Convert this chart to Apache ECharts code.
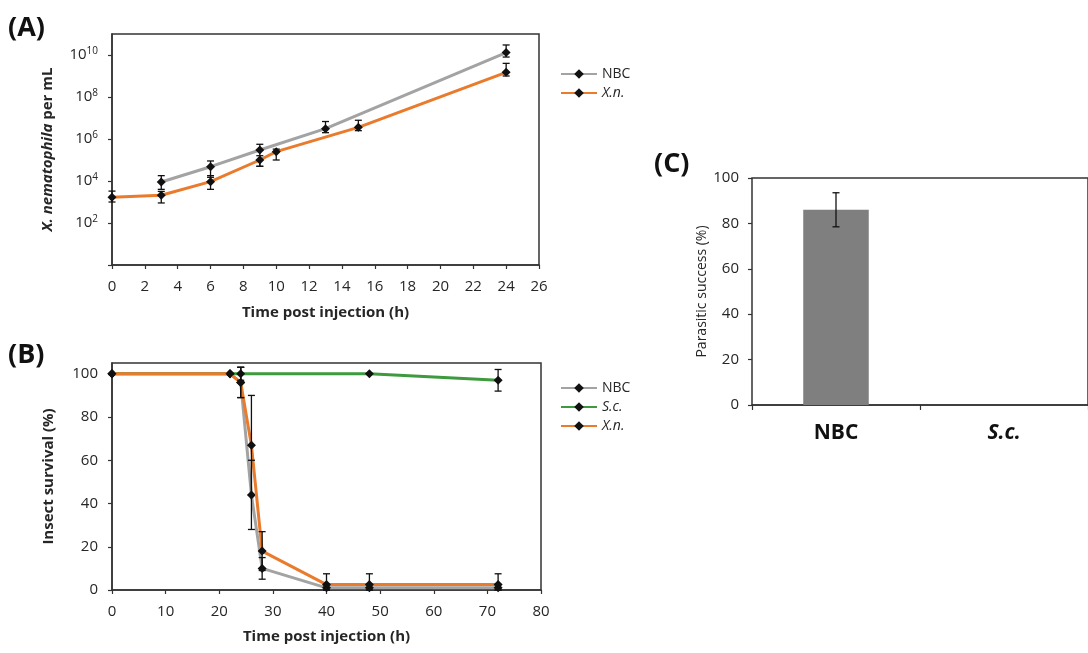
<!DOCTYPE html>
<html>
<head>
<meta charset="utf-8">
<script src="https://cdn.jsdelivr.net/npm/echarts@6/dist/echarts.min.js"></script>
<style>
html,body{margin:0;padding:0;background:#fff;}
#chart{width:1088px;height:653px;}
</style>
</head>
<body>
<div id="chart"></div>
<script>
// ---------- Panel A: X. nematophila per mL (log) ----------
const aTimesNBC = [3, 6, 9, 13, 24];
const aNBC      = [9e3, 4.8e4, 3e5, 3.1e6, 1.3e10];
const aNBCLow   = [4e3, 1.5e4, 5e4, 2e6, 8e9];
const aNBCHigh  = [1.8e4, 9e4, 5.6e5, 6.8e6, 3e10];
const aTimesXn  = [0, 3, 6, 9, 10, 15, 24];
const aXn       = [1.7e3, 2.1e3, 9.3e3, 1e5, 2.5e5, 3.6e6, 1.5e9];
const aXnLow    = [1e3, 9e2, 4e3, 5e4, 1e5, 2.5e6, 1e9];
const aXnHigh   = [3.3e3, 3.2e3, 1.8e4, 1.6e5, 3.3e5, 7.8e6, 4e9];

// ---------- Panel B: Insect survival (%) ----------
const bTimes    = [0, 22, 24, 26, 28, 40, 48, 72];
const bNBC      = [100, 100, 96, 44, 10, 1, 1, 1];
const bNBCErr   = [0, 0, 7, 16, 5, 1.5, 1.5, 1.5];
const bScTimes  = [0, 22, 24, 48, 72];
const bSc       = [100, 100, 100, 100, 97];
const bScErr    = [0, 0, 3, 0, 5];
const bXn       = [100, 100, 96, 67, 18, 2.5, 2.5, 2.5];
const bXnErr    = [0, 0, 7, 23, 9, 5, 5, 5];

// ---------- Panel C: Parasitic success (%) ----------
const cCategories = ['NBC', 'S.c.'];
const cValues     = [86, 0];
const cErr        = [7.5, 0];

const FONT = '"Open Sans", "Liberation Sans", sans-serif';
const AXIS_COLOR = '#333';
const TXT = '#262626';
const GRAY = '#a3a3a3', ORANGE = '#ea7b2c', GREEN = '#3e9a3e', BAR = '#7f7f7f';

function pairs(xs, ys) { return xs.map((x, i) => [x, ys[i]]); }
function errData(xs, lo, hi) { return xs.map((x, i) => [x, lo[i], hi[i]]); }
function errPM(xs, v, e) { return xs.map((x, i) => [x, Math.max(0, v[i] - e[i]), v[i] + e[i]]); }

function errRender(params, api) {
  const x = api.value(0), lo = api.value(1), hi = api.value(2);
  if (!(hi > lo)) return { type: 'group', children: [] };
  const p1 = api.coord([x, lo]), p2 = api.coord([x, hi]);
  const w = 3.5, st = { stroke: '#111', lineWidth: 1.3 };
  return { type: 'group', children: [
    { type: 'line', shape: { x1: p1[0], y1: p1[1], x2: p2[0], y2: p2[1] }, style: st },
    { type: 'line', shape: { x1: p1[0] - w, y1: p1[1], x2: p1[0] + w, y2: p1[1] }, style: st },
    { type: 'line', shape: { x1: p2[0] - w, y1: p2[1], x2: p2[0] + w, y2: p2[1] }, style: st }
  ]};
}

function lineSeries(name, data, color, xi, yi, z) {
  return {
    type: 'line', name: name, data: data, xAxisIndex: xi, yAxisIndex: yi,
    symbol: 'diamond', symbolSize: 9, z: z || 2,
    itemStyle: { color: '#111' },
    lineStyle: { color: color, width: 3 },
    emphasis: { disabled: true }
  };
}
function errSeries(data, xi, yi) {
  return { type: 'custom', data: data, xAxisIndex: xi, yAxisIndex: yi,
    renderItem: errRender, encode: { x: 0, y: [1, 2] }, z: 5, silent: true };
}

const axisLineStyle = { lineStyle: { color: AXIS_COLOR, width: 1.5 } };
const tickStyle = { show: true, inside: false, length: 4, lineStyle: { color: AXIS_COLOR, width: 1.2 } };
const labelBase = { color: TXT, fontSize: 15, fontFamily: FONT };
const nameBase = { color: TXT, fontSize: 15, fontWeight: 'bold', fontFamily: FONT };

const chart = echarts.init(document.getElementById('chart'), null, { renderer: 'canvas' });

const option = {
  animation: false,
  backgroundColor: '#fff',
  textStyle: { fontFamily: FONT },
  graphic: [
    { type: 'text', left: 8, top: 15, style: { text: '(A)', font: 'bold 27px ' + FONT, fill: '#111' } },
    { type: 'text', left: 8, top: 342, style: { text: '(B)', font: 'bold 27px ' + FONT, fill: '#111' } },
    { type: 'text', left: 654, top: 151, style: { text: '(C)', font: 'bold 27px ' + FONT, fill: '#111' } }
  ],
  grid: [
    { left: 112, top: 34, width: 427, height: 231, show: true, borderColor: AXIS_COLOR, borderWidth: 1.5, backgroundColor: 'transparent' },
    { left: 112, top: 363, width: 429, height: 227, show: true, borderColor: AXIS_COLOR, borderWidth: 1.5, backgroundColor: 'transparent' },
    { left: 752, top: 178, width: 342, height: 227, show: true, borderColor: AXIS_COLOR, borderWidth: 1.5, backgroundColor: 'transparent' }
  ],
  legend: [
    {
      data: ['NBC', 'X.n.'], left: 555, top: 62, orient: 'vertical', itemGap: 5,
      itemWidth: 36, itemHeight: 12, selectedMode: false,
      textStyle: { color: TXT, fontSize: 14, fontFamily: FONT, rich: { i: { fontStyle: 'italic', fontSize: 14, fontFamily: FONT, color: TXT } } },
      formatter: n => n === 'NBC' ? n : '{i|' + n + '}'
    },
    {
      data: ['NBC', 'S.c.', 'X.n.'], left: 555, top: 376, orient: 'vertical', itemGap: 5,
      itemWidth: 36, itemHeight: 12, selectedMode: false,
      textStyle: { color: TXT, fontSize: 14, fontFamily: FONT, rich: { i: { fontStyle: 'italic', fontSize: 14, fontFamily: FONT, color: TXT } } },
      formatter: n => n === 'NBC' ? n : '{i|' + n + '}'
    }
  ],
  xAxis: [
    { type: 'value', gridIndex: 0, min: 0, max: 26, interval: 2,
      axisLine: axisLineStyle, axisTick: tickStyle, splitLine: { show: false },
      axisLabel: Object.assign({ margin: 14 }, labelBase),
      name: 'Time post injection (h)', nameLocation: 'middle', nameGap: 40, nameTextStyle: nameBase },
    { type: 'value', gridIndex: 1, min: 0, max: 80, interval: 10,
      axisLine: axisLineStyle, axisTick: tickStyle, splitLine: { show: false },
      axisLabel: Object.assign({ margin: 14 }, labelBase),
      name: 'Time post injection (h)', nameLocation: 'middle', nameGap: 39, nameTextStyle: nameBase },
    { type: 'category', gridIndex: 2, data: cCategories,
      axisLine: axisLineStyle, axisTick: { show: true, inside: false, length: 5, alignWithLabel: false, lineStyle: { color: AXIS_COLOR, width: 1.2 } },
      axisLabel: { margin: 18, fontFamily: FONT, color: '#111',
        formatter: v => v === 'NBC' ? '{b|' + v + '}' : '{bi|' + v + '}',
        rich: { b: { fontSize: 21, fontWeight: 'bold', fontFamily: FONT, color: '#111' },
                bi: { fontSize: 21, fontWeight: 'bold', fontStyle: 'italic', fontFamily: FONT, color: '#111' } } } }
  ],
  yAxis: [
    { type: 'log', logBase: 10, gridIndex: 0, min: 1, max: 1e11, interval: 2,
      axisLine: axisLineStyle, axisTick: tickStyle, splitLine: { show: false }, minorTick: { show: false },
      axisLabel: Object.assign({ margin: 14, showMaxLabel: false,
        formatter: v => { const e = Math.round(Math.log10(v)); return (e <= 0 || e >= 11 || e % 2) ? '' : '10{s|' + e + '}'; },
        rich: { s: { fontSize: 10, fontFamily: FONT, color: TXT, verticalAlign: 'top', padding: [0, 0, 8, 0] } } }, labelBase),
      name: '{i|X. nematophila} per mL', nameLocation: 'middle', nameGap: 57,
      nameTextStyle: Object.assign({ rich: { i: { fontStyle: 'italic', fontWeight: 'bold', fontSize: 15, fontFamily: FONT, color: TXT } } }, nameBase) },
    { type: 'value', gridIndex: 1, min: 0, max: 105, interval: 20,
      axisLine: axisLineStyle, axisTick: tickStyle, splitLine: { show: false },
      axisLabel: Object.assign({ margin: 14, showMaxLabel: false }, labelBase),
      name: 'Insect survival (%)', nameLocation: 'middle', nameGap: 56, nameTextStyle: nameBase },
    { type: 'value', gridIndex: 2, min: 0, max: 100, interval: 20,
      axisLine: axisLineStyle, axisTick: tickStyle, splitLine: { show: false },
      axisLabel: Object.assign({ margin: 13 }, labelBase),
      name: 'Parasitic success (%)', nameLocation: 'middle', nameGap: 42,
      nameTextStyle: { color: TXT, fontSize: 14, fontFamily: FONT } }
  ],
  series: [
    lineSeries('NBC', pairs(aTimesNBC, aNBC), GRAY, 0, 0),
    lineSeries('X.n.', pairs(aTimesXn, aXn), ORANGE, 0, 0, 3),
    errSeries(errData(aTimesNBC, aNBCLow, aNBCHigh), 0, 0),
    errSeries(errData(aTimesXn, aXnLow, aXnHigh), 0, 0),

    lineSeries('NBC', pairs(bTimes, bNBC), GRAY, 1, 1),
    lineSeries('S.c.', pairs(bScTimes, bSc), GREEN, 1, 1),
    lineSeries('X.n.', pairs(bTimes, bXn), ORANGE, 1, 1, 3),
    errSeries(errPM(bTimes, bNBC, bNBCErr), 1, 1),
    errSeries(errPM(bScTimes, bSc, bScErr), 1, 1),
    errSeries(errPM(bTimes, bXn, bXnErr), 1, 1),

    { type: 'bar', xAxisIndex: 2, yAxisIndex: 2, data: cValues, barWidth: '39%',
      itemStyle: { color: BAR }, emphasis: { disabled: true } },
    { type: 'custom', xAxisIndex: 2, yAxisIndex: 2, z: 5, silent: true,
      data: cCategories.map((c, i) => [i, Math.max(0, cValues[i] - cErr[i]), cValues[i] + cErr[i]]),
      encode: { x: 0, y: [1, 2] }, renderItem: errRender }
  ]
};
chart.setOption(option);
</script>
</body>
</html>
